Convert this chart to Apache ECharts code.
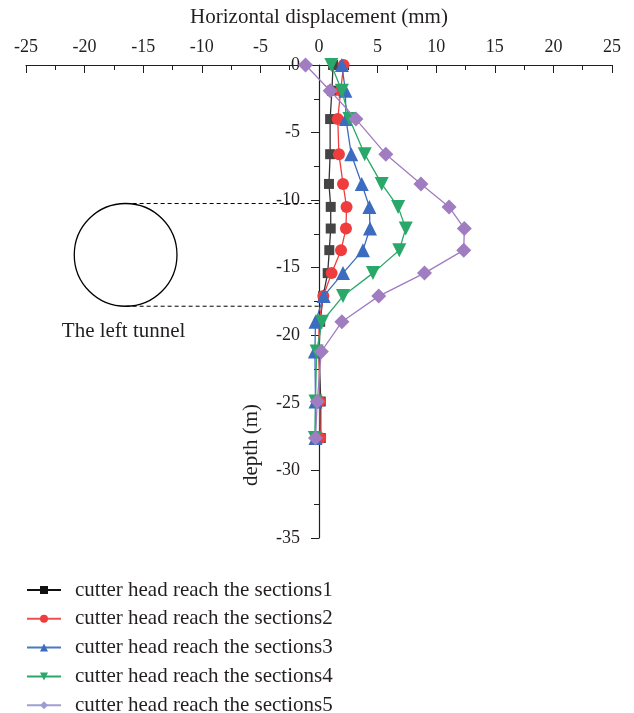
<!DOCTYPE html>
<html><head><meta charset="utf-8">
<script src="https://cdn.jsdelivr.net/npm/echarts@6/dist/echarts.min.js"></script>
<style>html,body{margin:0;padding:0;background:#fff}#c{width:634px;height:713px}</style>
</head><body><div id="c"></div>
<script>
const depths = [0, -1.9, -4.0, -6.6, -8.8, -10.5, -12.1, -13.7, -15.4, -17.1, -19.0, -21.2, -24.9, -27.6];
const s1 = [1.2, 1.1, 0.95, 0.95, 0.85, 1.0, 1.0, 0.88, 0.74, 0.35, 0.1, 0.0, 0.15, 0.15];
const s2 = [2.1, 1.85, 1.6, 1.7, 2.05, 2.35, 2.3, 1.88, 1.08, 0.37, 0.0, 0.0, 0.05, 0.1];
const s3 = [1.95, 2.25, 2.3, 2.75, 3.65, 4.3, 4.35, 3.75, 2.05, 0.4, -0.3, -0.35, -0.3, -0.3];
const s4 = [1.05, 1.95, 2.6, 3.9, 5.35, 6.75, 7.4, 6.85, 4.6, 2.05, 0.25, -0.2, -0.3, -0.35];
const s5 = [-1.15, 0.95, 3.15, 5.7, 8.7, 11.1, 12.4, 12.35, 9.0, 5.1, 1.95, 0.2, -0.15, -0.3];
const seriesNames = ['cutter head reach the sections1','cutter head reach the sections2','cutter head reach the sections3','cutter head reach the sections4','cutter head reach the sections5'];
const xTicks = {min:-25, max:25, interval:5};
const yTicks = {min:-35, max:0, interval:5};
const tunnelCenter = [-16.5, -14.05];
const tunnelRadius = 3.8;
const tunnelTop = -10.25, tunnelBottom = -17.85;
const tunnelLabel = 'The left tunnel';

const font = 'Liberation Serif';
const txt = '#231f20';
const gridLeft = 26, gridRight = 22, W = 634;
const plotW = W - gridLeft - gridRight;
const yOffset = -plotW * (0 - xTicks.min) / (xTicks.max - xTicks.min);
function pts(arr){ return arr.map((v,i)=>[v, depths[i]]); }
const styles = [
  {color:'#444444', symbol:'rect', size:10, line:'#333333', legLine:'#111111', legColor:'#111111'},
  {color:'#ef3d3d', symbol:'circle', size:12, line:'#ef3d3d', legLine:'#ef5050', legColor:'#ef3d3d'},
  {color:'#3b6cc0', symbol:'triangle', size:14, line:'#3b6cc0', legLine:'#4a78c4', legColor:'#3b6cc0'},
  {color:'#2aa86a', symbol:'path://M0,0 L10,0 L5,9 Z', size:14, line:'#2aa86a', legLine:'#2aa86a', legColor:'#2aa86a'},
  {color:'#a07cc0', symbol:'diamond', size:15, line:'#a07cc0', legLine:'#a0a0d4', legColor:'#9d9dd3'}
];
const data = [s1,s2,s3,s4,s5];
const series = data.map((d,i)=>({
  name: seriesNames[i], type:'line', data: pts(d),
  symbol: styles[i].symbol, symbolSize: styles[i].size,
  itemStyle:{color: styles[i].color},
  lineStyle:{color: styles[i].line, width:1.3},
  z: 3+i
}));
series.push({type:'line', data:[[tunnelCenter[0], tunnelTop],[0, tunnelTop]], symbol:'none', lineStyle:{color:'#000', width:1, type:[4,3]}, silent:true, z:1});
series.push({type:'line', data:[[tunnelCenter[0], tunnelBottom],[0, tunnelBottom]], symbol:'none', lineStyle:{color:'#000', width:1, type:[4,3]}, silent:true, z:1});
series.push({type:'custom', silent:true, z:2, data:[tunnelCenter],
  renderItem:function(params, api){
    const c = api.coord([api.value(0), api.value(1)]);
    const r = api.size([0, tunnelRadius])[1];
    const lp = api.coord([api.value(0), tunnelBottom - 1.85]);
    return {type:'group', children:[
      {type:'circle', shape:{cx:c[0], cy:c[1], r:r}, style:{fill:'none', stroke:'#000', lineWidth:1.3}},
      {type:'text', x:lp[0] - 2, y:lp[1], style:{text:tunnelLabel, font:'21px "Liberation Serif"', fill:txt, align:'center', verticalAlign:'middle'}}
    ]};
  }
});
const legends = seriesNames.map((n,i)=>({
  orient:'vertical', left:26, top:579.5 + i*28.8, padding:0,
  data:[{name:n, itemStyle:{color:styles[i].legColor}, lineStyle:{color:styles[i].legLine}}],
  itemWidth:34, itemHeight:10,
  textStyle:{fontFamily:font, fontSize:21, color:txt, padding:[0,0,0,9]}
}));
const chart = echarts.init(document.getElementById('c'));
chart.setOption({
  animation:false,
  grid:{left:gridLeft, right:gridRight, top:65, bottom:175, containLabel:false, outerBoundsMode:'none'},
  xAxis:{type:'value', position:'top', min:xTicks.min, max:xTicks.max, interval:xTicks.interval,
    name:'Horizontal displacement (mm)', nameLocation:'middle', nameGap:37,
    nameTextStyle:{fontFamily:font, fontSize:21, color:txt},
    axisLine:{onZero:false, lineStyle:{color:'#231f20', width:1.2}},
    axisTick:{inside:true, length:8, lineStyle:{color:'#231f20'}},
    minorTick:{show:true, splitNumber:2, length:5, lineStyle:{color:'#231f20'}},
    axisLabel:{fontFamily:font, fontSize:18, color:txt, margin:9},
    splitLine:{show:false}},
  yAxis:{type:'value', min:yTicks.min, max:yTicks.max, interval:yTicks.interval, position:'left', offset:yOffset,
    axisLine:{onZero:false, lineStyle:{color:'#231f20', width:1.2}},
    axisTick:{inside:false, length:8, lineStyle:{color:'#231f20'}},
    minorTick:{show:true, splitNumber:2, length:5, lineStyle:{color:'#231f20'}},
    axisLabel:{fontFamily:font, fontSize:18, color:txt, margin:19},
    splitLine:{show:false}},
  legend:legends,
  graphic:[{type:'text', x:251, y:445, rotation:Math.PI/2, style:{text:'depth (m)', font:'21px "Liberation Serif"', fill:txt, align:'center', verticalAlign:'middle'}}],
  series:series
});
</script></body></html>
